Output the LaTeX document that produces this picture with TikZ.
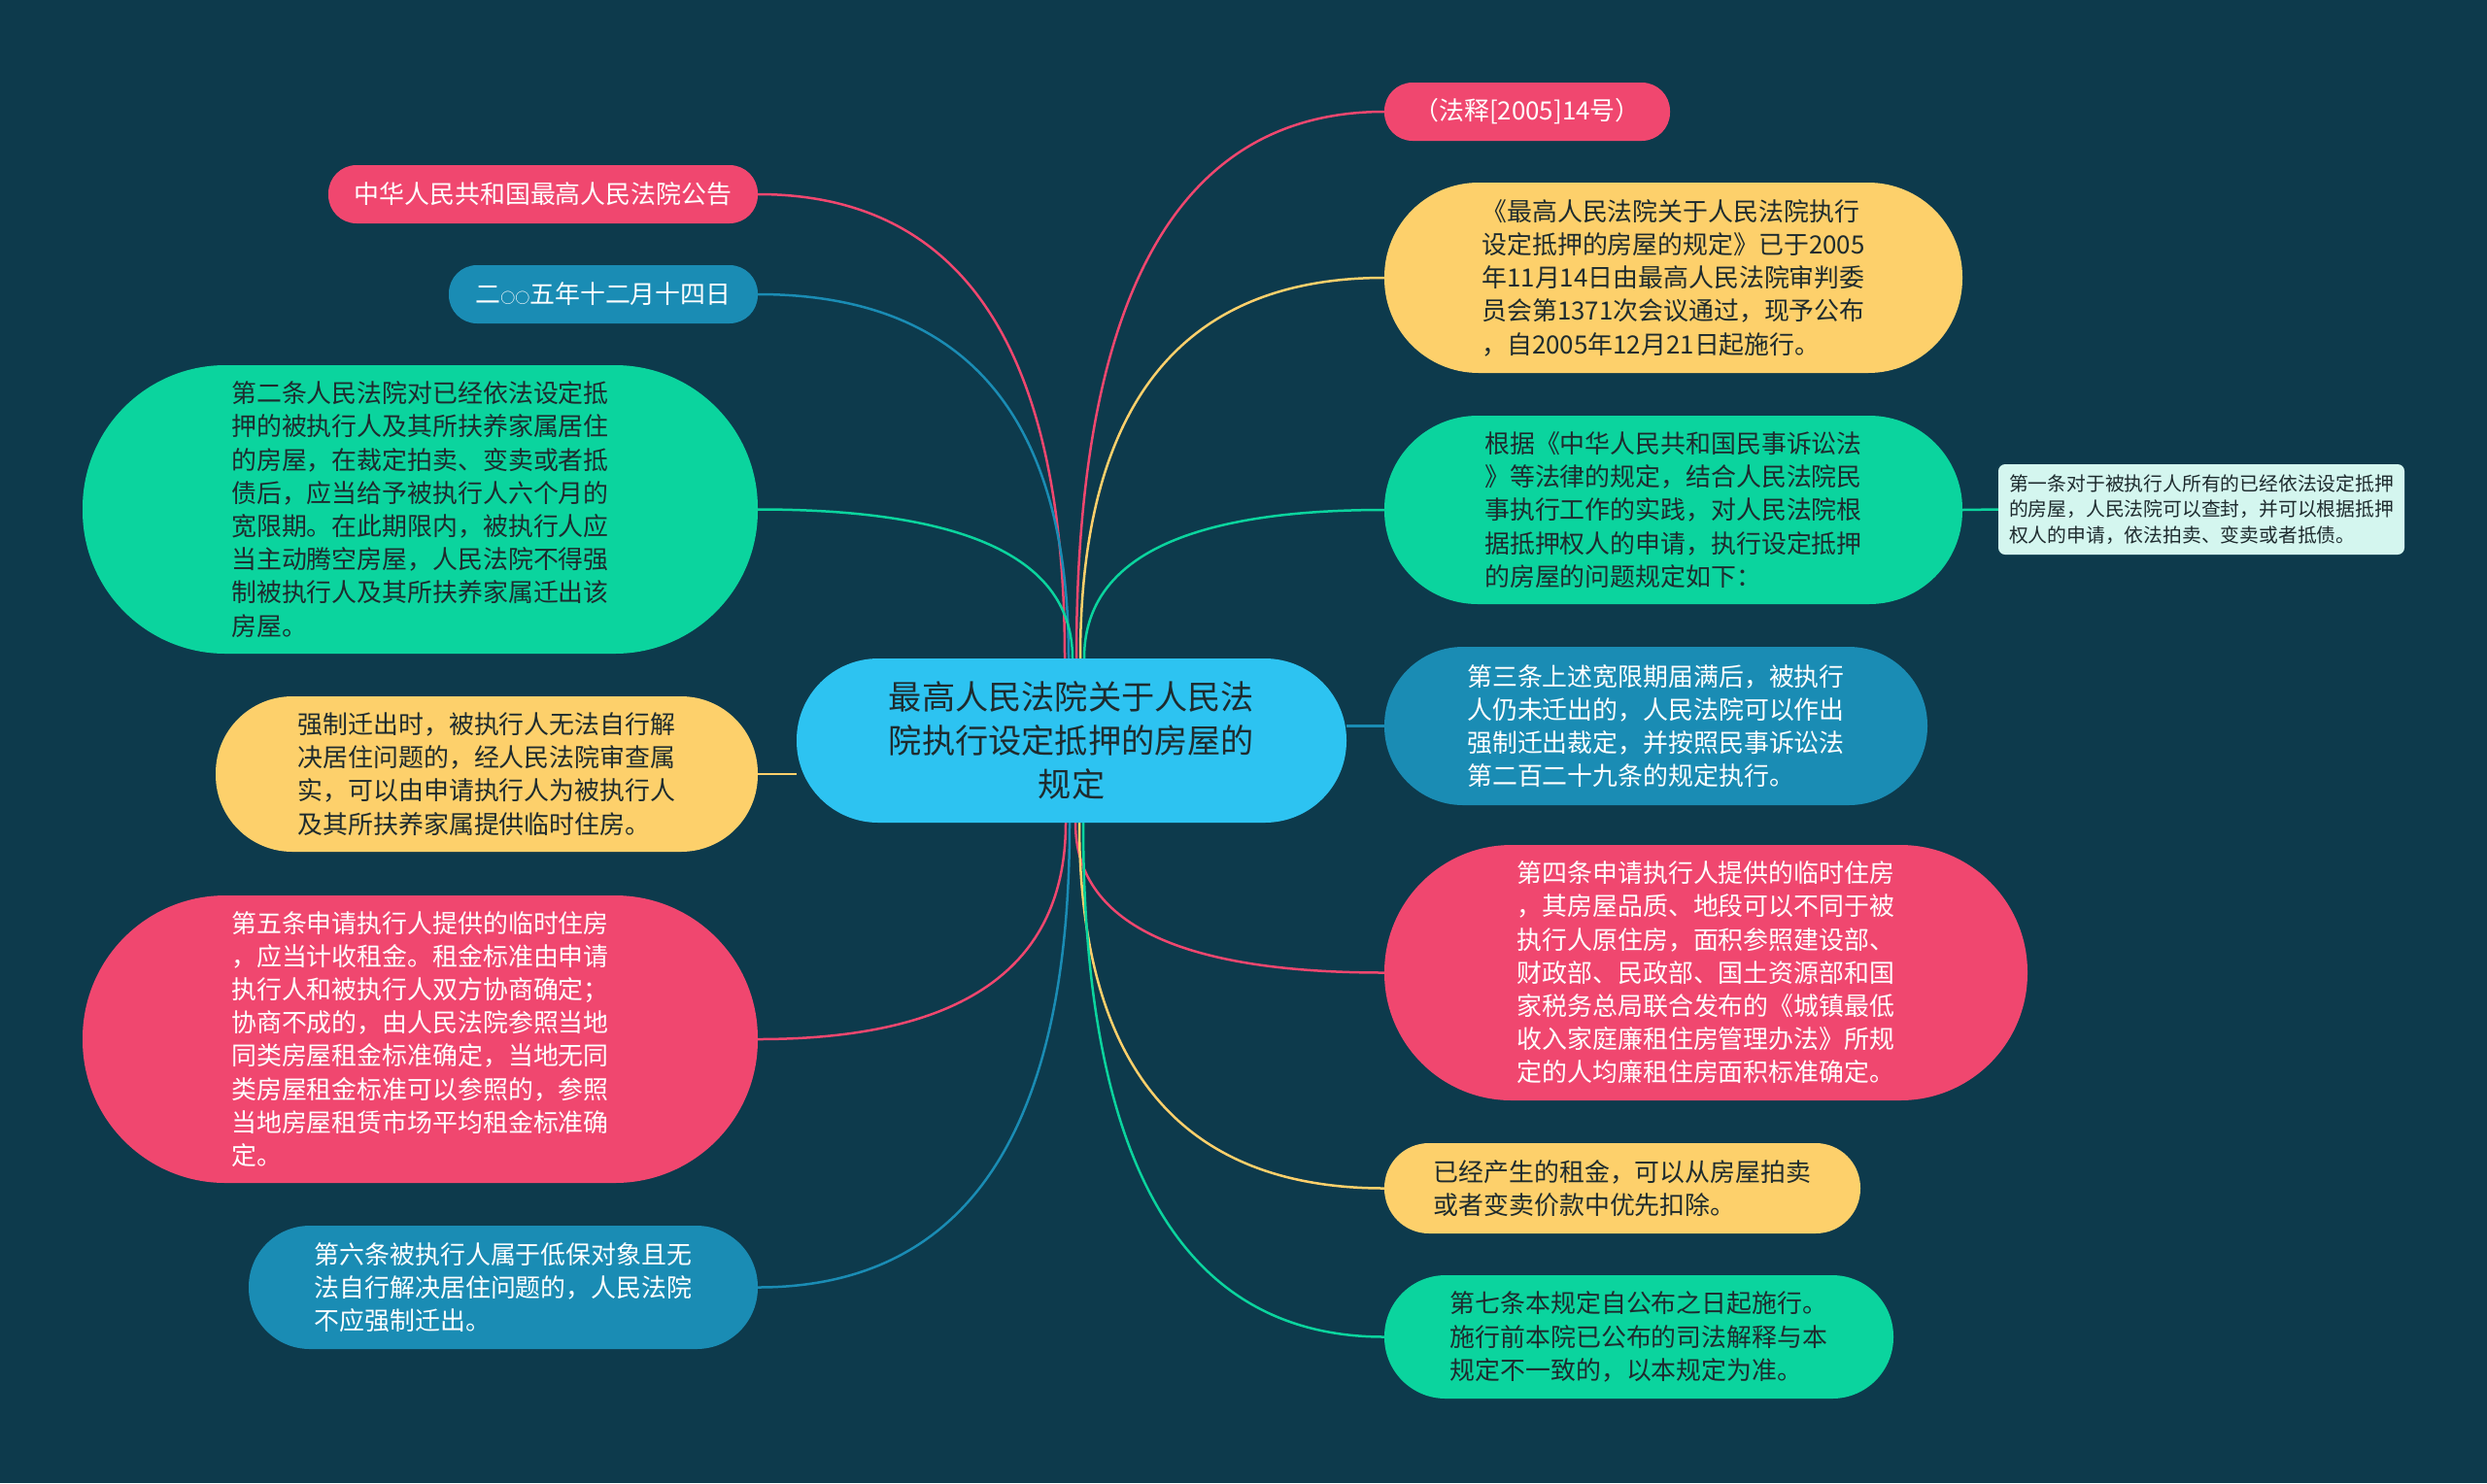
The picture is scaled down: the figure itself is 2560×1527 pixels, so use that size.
\documentclass[tikz,border=0pt]{standalone}
\usepackage{fontspec}
\setmainfont{Noto Sans CJK SC}
\usetikzlibrary{calc}
\pgfdeclarelayer{edges}
\pgfsetlayers{edges,main}
\definecolor{bgc}{HTML}{0D3A4C}
\definecolor{pinkc}{HTML}{F0476F}
\definecolor{yelc}{HTML}{FDD06B}
\definecolor{grnc}{HTML}{0BD49E}
\definecolor{bluc}{HTML}{1A8CB4}
\definecolor{cenc}{HTML}{2DC3F1}
\definecolor{litc}{HTML}{D4F6EF}
\definecolor{darkt}{HTML}{1E2B2E}
\tikzset{
  box/.style={draw=none, inner sep=0pt, align=left, font=\fontsize{25.9}{34.2}\selectfont},
  pinkbox/.style={box, fill=pinkc, text=white},
  yelbox/.style={box, fill=yelc, text=darkt},
  grnbox/.style={box, fill=grnc, text=darkt},
  blubox/.style={box, fill=bluc, text=white},
  conn/.style={line width=2.5pt},
}
\newcommand\mmcurve[3]{\draw[conn,#1] (#2) .. controls ($(#2)!0.667!(#2|-#3)$) and ($(#3)!0.667!(#2|-#3)$) .. (#3);}
\begin{document}
\begin{tikzpicture}[x=1pt,y=-1pt]
\useasboundingbox (0,0) rectangle (2560,1527);
% center
\node[box, fill=cenc, text=darkt, align=center, font=\fontsize{34.2}{45}\selectfont,
  minimum width=566pt, minimum height=169pt, rounded corners=84pt] (C) at (1103,762.5)
  {最高人民法院关于人民法\\院执行设定抵押的房屋的\\规定};
% left
\node[pinkbox, minimum width=442pt, minimum height=60pt, rounded corners=29pt] (L1) at (559,200)
  {中华人民共和国最高人民法院公告};
\node[blubox, minimum width=318pt, minimum height=60pt, rounded corners=29pt] (L2) at (621,303)
  {二{\fontsize{15}{15}\selectfont ○○}五年十二月十四日};
\node[grnbox, minimum width=695pt, minimum height=297pt, rounded corners=147pt] (L3) at (432.5,524.5)
  {第二条人民法院对已经依法设定抵\\押的被执行人及其所扶养家属居住\\的房屋，在裁定拍卖、变卖或者抵\\债后，应当给予被执行人六个月的\\宽限期。在此期限内，被执行人应\\当主动腾空房屋，人民法院不得强\\制被执行人及其所扶养家属迁出该\\房屋。};
\node[yelbox, minimum width=558pt, minimum height=160pt, rounded corners=79pt] (L4) at (501,797)
  {强制迁出时，被执行人无法自行解\\决居住问题的，经人民法院审查属\\实，可以由申请执行人为被执行人\\及其所扶养家属提供临时住房。};
\node[pinkbox, minimum width=695pt, minimum height=296pt, rounded corners=147pt] (L5) at (432.5,1070)
  {第五条申请执行人提供的临时住房\\，应当计收租金。租金标准由申请\\执行人和被执行人双方协商确定；\\协商不成的，由人民法院参照当地\\同类房屋租金标准确定，当地无同\\类房屋租金标准可以参照的，参照\\当地房屋租赁市场平均租金标准确\\定。};
\node[blubox, minimum width=524pt, minimum height=127pt, rounded corners=63pt] (L6) at (518,1325.5)
  {第六条被执行人属于低保对象且无\\法自行解决居住问题的，人民法院\\不应强制迁出。};
% right
\node[pinkbox, minimum width=294pt, minimum height=60pt, rounded corners=29pt] (R1) at (1572,115)
  {（法释[2005]14号）};
\node[yelbox, minimum width=595pt, minimum height=196pt, rounded corners=97pt] (R2) at (1722.5,286)
  {《最高人民法院关于人民法院执行\\设定抵押的房屋的规定》已于2005\\年11月14日由最高人民法院审判委\\员会第1371次会议通过，现予公布\\，自2005年12月21日起施行。};
\node[grnbox, minimum width=595pt, minimum height=194pt, rounded corners=96pt] (R3) at (1722.5,525)
  {根据《中华人民共和国民事诉讼法\\》等法律的规定，结合人民法院民\\事执行工作的实践，对人民法院根\\据抵押权人的申请，执行设定抵押\\的房屋的问题规定如下：};
\node[box, fill=litc, text=darkt, font=\fontsize{19.8}{26.5}\selectfont,
  minimum width=418pt, minimum height=93pt, rounded corners=7pt] (R4) at (2266,524.5)
  {第一条对于被执行人所有的已经依法设定抵押\\的房屋，人民法院可以查封，并可以根据抵押\\权人的申请，依法拍卖、变卖或者抵债。};
\node[blubox, minimum width=559pt, minimum height=163pt, rounded corners=81pt] (R5) at (1704.5,747.5)
  {第三条上述宽限期届满后，被执行\\人仍未迁出的，人民法院可以作出\\强制迁出裁定，并按照民事诉讼法\\第二百二十九条的规定执行。};
\node[pinkbox, minimum width=662pt, minimum height=263pt, rounded corners=131pt] (R6) at (1756,1001.5)
  {第四条申请执行人提供的临时住房\\，其房屋品质、地段可以不同于被\\执行人原住房，面积参照建设部、\\财政部、民政部、国土资源部和国\\家税务总局联合发布的《城镇最低\\收入家庭廉租住房管理办法》所规\\定的人均廉租住房面积标准确定。};
\node[yelbox, minimum width=490pt, minimum height=93pt, rounded corners=46pt] (R7) at (1670,1223.5)
  {已经产生的租金，可以从房屋拍卖\\或者变卖价款中优先扣除。};
\node[grnbox, minimum width=524pt, minimum height=127pt, rounded corners=63pt] (R8) at (1687,1376.5)
  {第七条本规定自公布之日起施行。\\施行前本院已公布的司法解释与本\\规定不一致的，以本规定为准。};
% start points
\coordinate (t1) at ([xshift=-7pt]C.north);
\coordinate (t2) at ([xshift=-3pt]C.north);
\coordinate (t3) at ([xshift=1pt]C.north);
\coordinate (t4) at ([xshift=5pt]C.north);
\coordinate (t5) at ([xshift=9pt]C.north);
\coordinate (t6) at ([xshift=13pt]C.north);
\coordinate (b1) at ([xshift=-6pt]C.south);
\coordinate (b2) at ([xshift=-2pt]C.south);
\coordinate (b3) at ([xshift=4pt]C.south);
\coordinate (b4) at ([xshift=8pt]C.south);
\coordinate (b5) at ([xshift=12pt]C.south);
\begin{pgfonlayer}{edges}
\fill[bgc] (0,0) rectangle (2560,1527);
\mmcurve{pinkc}{t1}{L1.east}
\mmcurve{bluc}{t2}{L2.east}
\mmcurve{grnc}{t3}{L3.east}
\mmcurve{pinkc}{t4}{R1.west}
\mmcurve{yelc}{t5}{R2.west}
\mmcurve{grnc}{t6}{R3.west}
\mmcurve{pinkc}{b1}{L5.east}
\mmcurve{bluc}{b2}{L6.east}
\mmcurve{pinkc}{b3}{R6.west}
\mmcurve{yelc}{b4}{R7.west}
\mmcurve{grnc}{b5}{R8.west}
\draw[conn, yelc] (L4.east) -- (C.west |- L4.east);
\draw[conn, bluc] (C.east |- R5.west) -- (R5.west);
\draw[conn, grnc] (R3.east) -- (R4.west);
\end{pgfonlayer}
\end{tikzpicture}
\end{document}
